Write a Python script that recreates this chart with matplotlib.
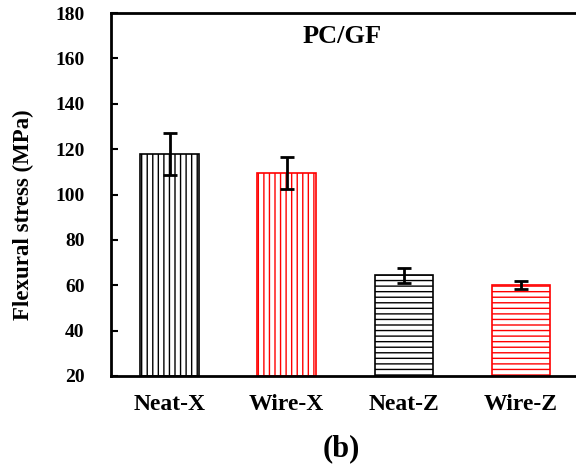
import matplotlib
matplotlib.use("Agg")
import matplotlib.pyplot as plt

samples = ["Neat-X", "Wire-X", "Neat-Z", "Wire-Z"]
stress = [118, 109.5, 64.3, 60]
stress_err = [9.2, 7, 3.3, 1.8]
colors = ["black", "red", "black", "red"]
hatches = ["|||", "|||", "---", "---"]

plt.rcParams["font.family"] = "Liberation Serif"
plt.rcParams["font.weight"] = "bold"
plt.rcParams["hatch.linewidth"] = 1.0

fig = plt.figure(figsize=(5.76, 4.65), dpi=100)
ax = fig.add_axes([0.1927, 0.1914, 0.8073, 0.7806])

x = range(len(samples))
for i in x:
    ax.bar(i, stress[i] - 20, bottom=20, width=0.5, color="white",
           edgecolor=colors[i], hatch=hatches[i], linewidth=1.2)
ax.errorbar(list(x), stress, yerr=stress_err, fmt="none", ecolor="black",
            elinewidth=2, capsize=5, capthick=2)

ax.set_xlim(-0.5, 3.47)
ax.set_ylim(20, 180)
ax.set_yticks(range(20, 181, 20))
ax.set_xticks(list(x))
ax.set_xticklabels(samples, fontsize=17, fontweight="bold")
ax.tick_params(axis="y", direction="in", length=5, width=1.5, labelsize=14, pad=19)
ax.tick_params(axis="x", length=0, pad=13)
for lab in ax.get_yticklabels():
    lab.set_fontweight("bold")

for s in ["left", "top", "bottom"]:
    ax.spines[s].set_linewidth(2)
ax.spines["right"].set_visible(False)

fig.text(23 / 576, 1 - 215 / 465, "Flexural stress (MPa)", rotation=90,
         ha="center", va="center", fontsize=16.5, fontweight="bold")
ax.text(0.496, 0.934, "PC/GF", transform=ax.transAxes, ha="center", va="center",
        fontsize=19, fontweight="bold")
fig.text(341 / 576, 1 - 449 / 465, "(b)", ha="center", va="center",
         fontsize=22, fontweight="bold")

fig.savefig("out.png", dpi=100)
